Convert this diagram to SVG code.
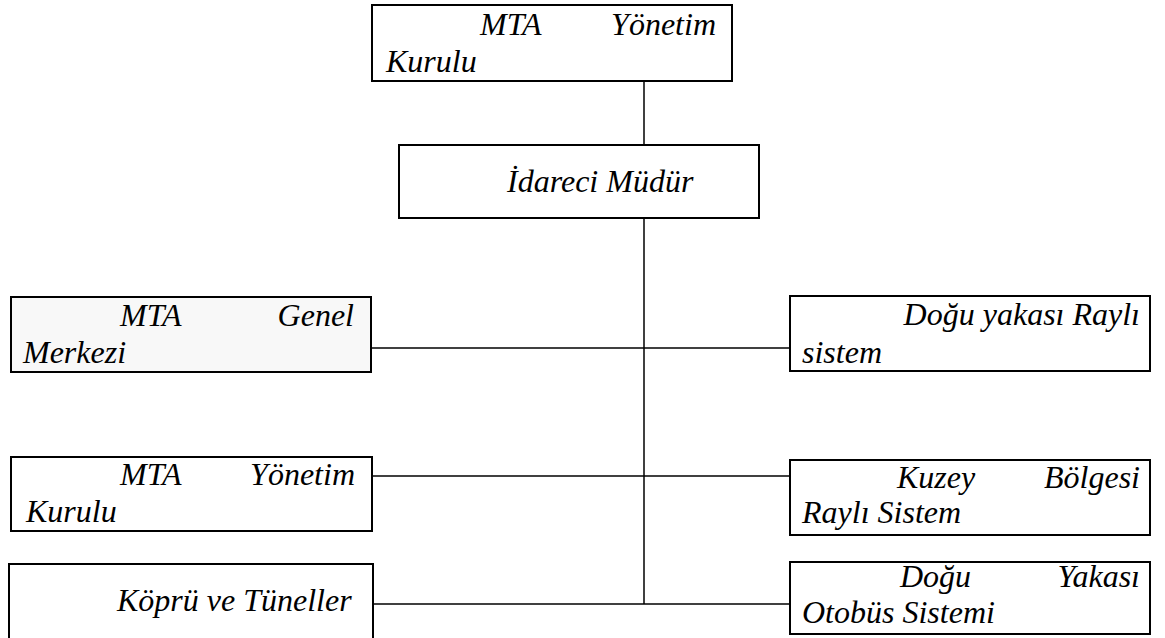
<svg xmlns="http://www.w3.org/2000/svg" width="1165" height="638" viewBox="0 0 1165 638">
<style>
.box{fill:#ffffff;stroke:#000;stroke-width:2}
.gray{fill:#f8f8f8}
.t{font-family:'Liberation Serif','DejaVu Serif',serif;font-style:italic;font-size:32px;fill:#000}
.e{text-anchor:end}
.c line{stroke:#000;stroke-width:1.5}
</style>
<rect width="1165" height="638" fill="#ffffff"/>
<g class="c" id="connectors">
<line x1="644" y1="81" x2="644" y2="145"/>
<line x1="644" y1="218" x2="644" y2="604"/>
<line x1="372" y1="348" x2="790" y2="348"/>
<line x1="372" y1="476" x2="790" y2="476"/>
<line x1="372" y1="604" x2="803" y2="604"/>
</g>
<g id="n1"><rect class="box" x="372" y="5" width="360" height="76"/>
<text class="t" x="480" y="35">MTA</text><text class="t e" x="716" y="35">Yönetim</text><text class="t" x="386" y="72">Kurulu</text></g>
<g id="n2"><rect class="box" x="399" y="145" width="360" height="73"/>
<text class="t" x="507" y="192">İdareci Müdür</text></g>
<g id="n3"><rect class="box gray" x="11" y="297" width="360" height="75"/>
<text class="t" x="120" y="326">MTA</text><text class="t e" x="354" y="326">Genel</text><text class="t" x="23" y="363">Merkezi</text></g>
<g id="n4"><rect class="box" x="790" y="296" width="360" height="75"/>
<text class="t e" x="1140" y="325">Doğu yakası Raylı</text><text class="t" x="802" y="363">sistem</text></g>
<g id="n5"><rect class="box" x="11" y="457" width="361" height="74"/>
<text class="t" x="120" y="485">MTA</text><text class="t e" x="355" y="485">Yönetim</text><text class="t" x="26" y="522">Kurulu</text></g>
<g id="n6"><rect class="box" x="790" y="460" width="360" height="75"/>
<text class="t" x="897" y="488">Kuzey</text><text class="t e" x="1140" y="488">Bölgesi</text><text class="t" x="802" y="523">Raylı Sistem</text></g>
<g id="n7"><rect class="box" x="9" y="564" width="364" height="80"/>
<text class="t" x="117" y="611">Köprü ve Tüneller</text></g>
<g id="n8"><rect class="box" x="790" y="562" width="360" height="72"/>
<text class="t" x="900" y="587">Doğu</text><text class="t e" x="1140" y="587">Yakası</text><text class="t" x="802" y="623">Otobüs Sistemi</text></g>
</svg>
